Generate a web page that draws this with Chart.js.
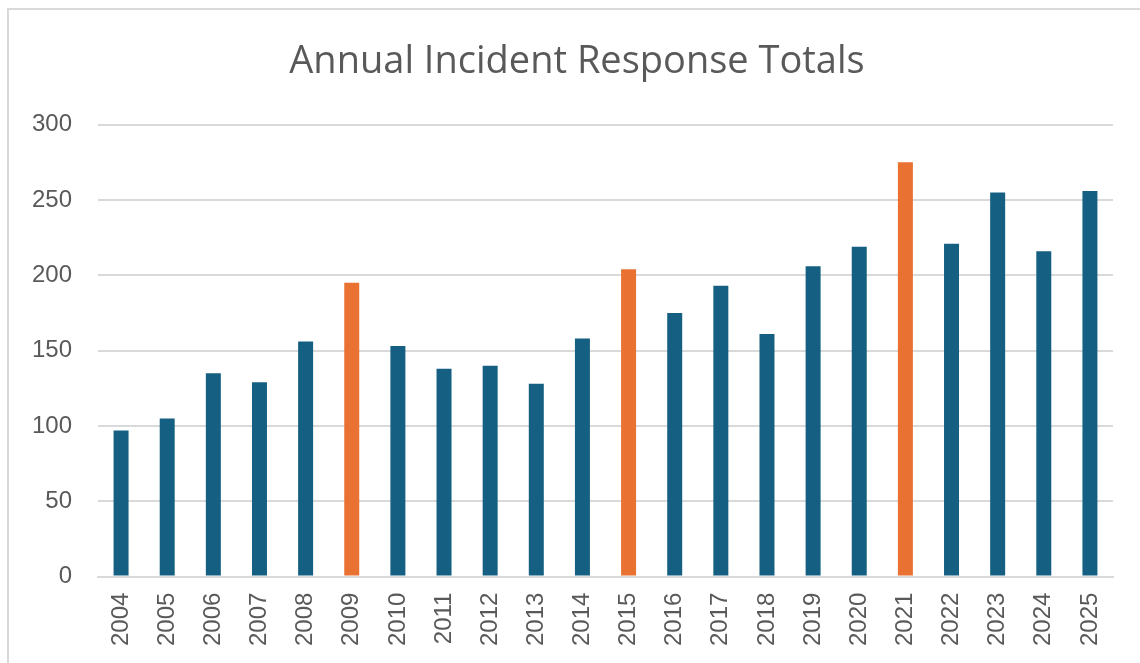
<!DOCTYPE html>
<html>
<head>
<meta charset="utf-8">
<script src="https://cdn.jsdelivr.net/npm/chart.js@4"></script>
<style>
  html, body { margin: 0; padding: 0; background: #ffffff; }
  #wrap { position: absolute; left: 0; top: 0; width: 1140px; height: 663px; overflow: hidden; }
  #frame { position: absolute; left: 7px; top: 8px; width: 1160px; height: 700px; border: 2px solid #d9d9d9; box-sizing: border-box; }
  canvas { position: absolute; left: 0; top: 0; }
</style>
</head>
<body>
<div id="wrap">
  <div id="frame"></div>
  <canvas id="c" width="1140" height="663"></canvas>
</div>
<script>
const years = ["2004","2005","2006","2007","2008","2009","2010","2011","2012","2013","2014","2015","2016","2017","2018","2019","2020","2021","2022","2023","2024","2025"];
const incidents = [97,105,135,129,156,195,153,138,140,128,158,204,175,193,161,206,219,275,221,255,216,256];
const highlightYears = ["2009","2015","2021"];
const yTicks = [0,50,100,150,200,250,300];

const BLUE = "#156082";
const ORANGE = "#E97132";
const barColors = years.map(y => highlightYears.includes(y) ? ORANGE : BLUE);

new Chart(document.getElementById("c"), {
  type: "bar",
  data: {
    labels: years,
    datasets: [{
      label: "Incidents",
      data: incidents,
      backgroundColor: barColors,
      borderWidth: 0,
      barPercentage: 0.325,
      categoryPercentage: 1.0
    }]
  },
  options: {
    responsive: false,
    animation: false,
    devicePixelRatio: 1,
    layout: { padding: { left: 14, right: 0, top: 0, bottom: 1 } },
    plugins: {
      legend: { display: false },
      tooltip: { enabled: false },
      title: {
        display: true,
        text: "Annual Incident Response Totals",
        color: "#595959",
        font: { family: "Open Sans", size: 38, weight: "normal" },
        padding: { top: 39, bottom: 40 }
      }
    },
    scales: {
      x: {
        grid: { display: false, drawTicks: false },
        border: { display: true, color: "#d9d9d9", width: 2 },
        ticks: {
          color: "#595959",
          font: { family: "Liberation Sans", size: 24 },
          maxRotation: 90, minRotation: 90,
          padding: 16,
          autoSkip: false
        }
      },
      y: {
        min: 0, max: 300,
        afterFit: (s) => { s.width = 84; },
        afterBuildTicks: (s) => { s.ticks = yTicks.map(v => ({ value: v })); },
        grid: { color: "#d9d9d9", lineWidth: 2, drawTicks: false },
        border: { display: false },
        ticks: {
          color: "#595959",
          font: { family: "Liberation Sans", size: 24 },
          padding: 26
        }
      },
      yRightGap: {
        type: "linear",
        position: "right",
        display: true,
        afterFit: (s) => { s.width = 27; },
        grid: { display: false, drawTicks: false },
        border: { display: false },
        ticks: { display: false }
      }
    }
  }
});
</script>
</body>
</html>
